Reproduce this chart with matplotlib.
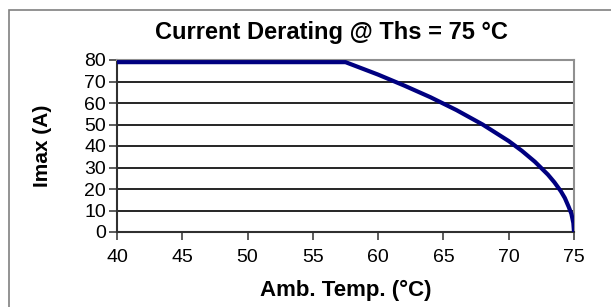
import matplotlib
matplotlib.use("Agg")
import matplotlib.pyplot as plt
from matplotlib.patches import Rectangle

# Derating curve
ambTemp = [40, 45, 50, 55, 57.5, 60, 62, 64, 66, 68, 70, 71, 72, 73, 73.5, 74, 74.3, 74.6, 74.8, 74.95, 75]
imax = [79, 79, 79, 79, 79, 73.2, 68.1, 62.7, 56.7, 50.0, 42.3, 37.8, 32.7, 26.7, 23.1, 18.9, 15.8, 11.6, 8.5, 4.2, 0]
xTicks = [40, 45, 50, 55, 60, 65, 70, 75]
yTicks = [0, 10, 20, 30, 40, 50, 60, 70, 80]

plt.rcParams['font.family'] = ['Liberation Sans', 'DejaVu Sans']

fig = plt.figure(figsize=(6.11, 3.07), dpi=100)
ax = fig.add_axes([117/611, 1-232/307, (574-117)/611, (232-60)/307])

# outer chart frame
fig.patches.append(Rectangle((9/611, -0.1), 1.2, 1-10/307+0.1, transform=fig.transFigure,
                             fill=False, edgecolor="#808080", linewidth=1.2))

ax.plot(ambTemp, imax, color="#000080", linewidth=3, solid_capstyle="butt",
        solid_joinstyle="round", zorder=3)

ax.set_xlim(40, 75)
ax.set_ylim(0, 80)
ax.set_xticks(xTicks)
ax.set_yticks(yTicks)
ax.yaxis.grid(True, color="black", linewidth=1.2)
ax.set_axisbelow(True)
ax.tick_params(direction="out", length=6, width=1.2, color="#404040", labelsize=14)
ax.tick_params(axis="x", pad=6)
ax.tick_params(axis="y", pad=2)

for side in ["top", "right"]:
    ax.spines[side].set_color("#909090")
    ax.spines[side].set_linewidth(1.5)
for side in ["left", "bottom"]:
    ax.spines[side].set_color("#303030")
    ax.spines[side].set_linewidth(1.5)

# title sits a little left of the plot centre in the original
ax.set_title("Current Derating @ Ths = 75 °C", fontsize=17, fontweight="bold", pad=15, x=0.47)
ax.set_xlabel("Amb. Temp. (°C)", fontsize=16, fontweight="bold", labelpad=10)
ax.set_ylabel("Imax (A)", fontsize=15, fontweight="bold", labelpad=23)

fig.savefig("out.png", dpi=100)
